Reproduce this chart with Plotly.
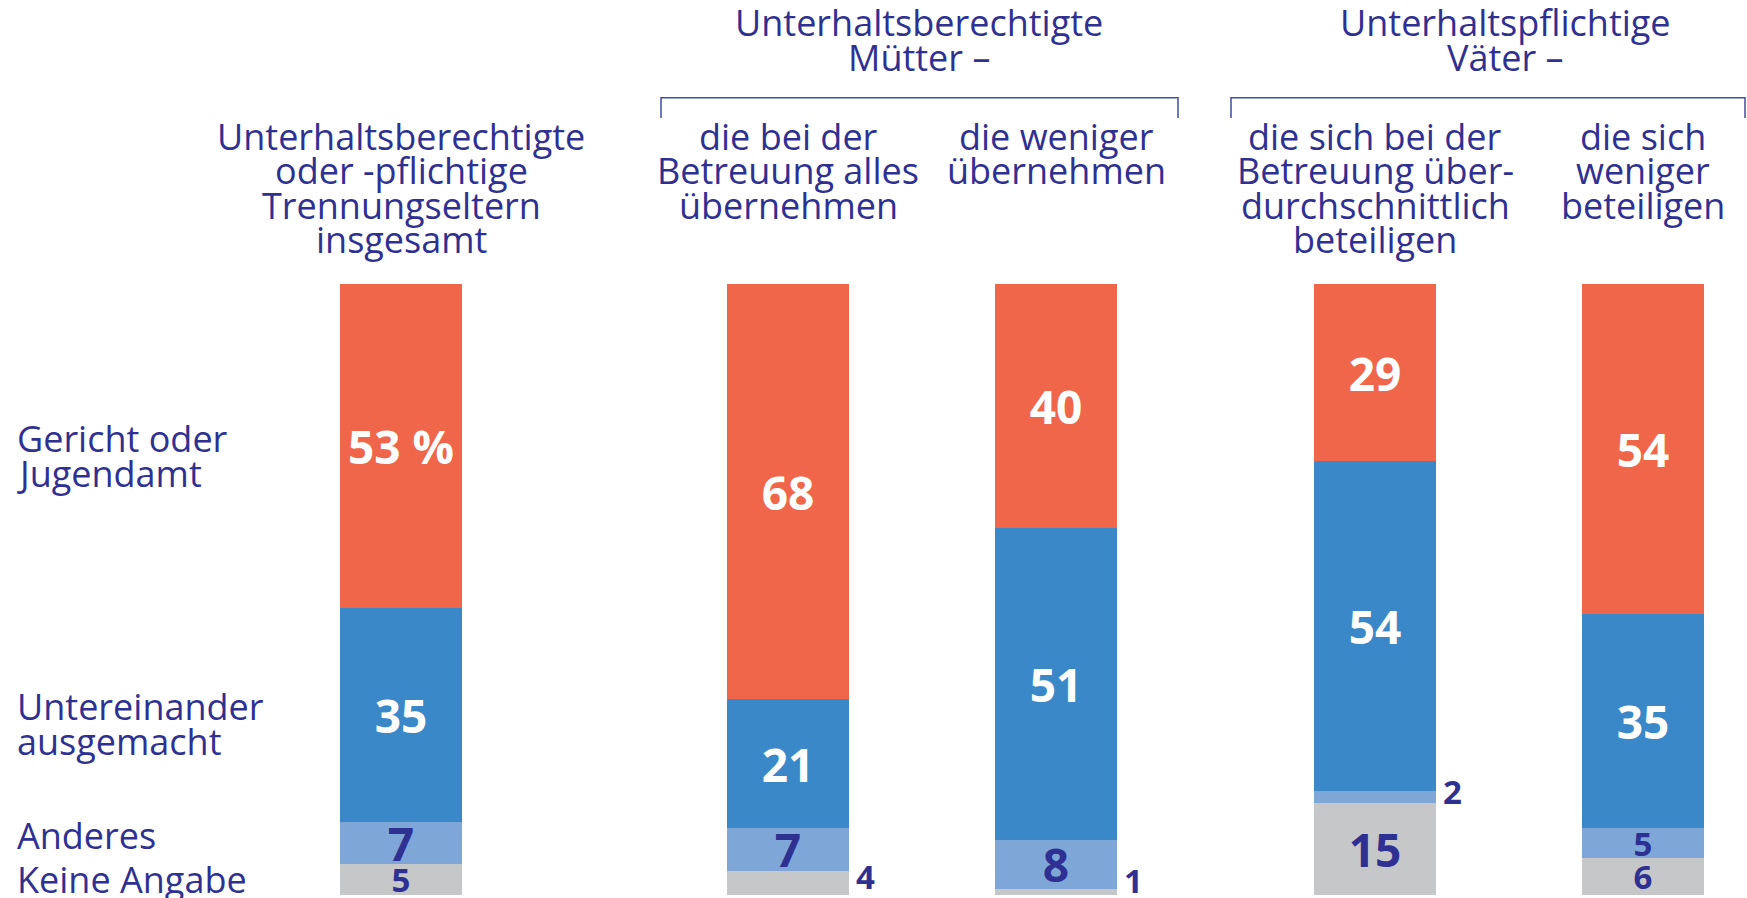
import plotly.graph_objects as go

# ---------------- data ----------------
groups = ["Trennungseltern insgesamt", "Mütter: alles", "Mütter: weniger",
          "Väter: überdurchschnittlich", "Väter: weniger"]
categories = ["Keine Angabe", "Anderes", "Untereinander ausgemacht", "Gericht oder Jugendamt"]
keine_angabe = [5, 4, 1, 15, 6]
anderes = [7, 7, 8, 2, 5]
untereinander = [35, 21, 51, 54, 35]
gericht = [53, 68, 40, 29, 54]

bar_headers = [
    ["Unterhaltsberechtigte", "oder -pflichtige", "Trennungseltern", "insgesamt"],
    ["die bei der", "Betreuung alles", "übernehmen"],
    ["die weniger", "übernehmen"],
    ["die sich bei der", "Betreuung über-", "durchschnittlich", "beteiligen"],
    ["die sich", "weniger", "beteiligen"],
]
group_headers = [["Unterhaltsberechtigte", "Mütter –"], ["Unterhaltspflichtige", "Väter –"]]
category_label_lines = [["Gericht oder", "Jugendamt"], ["Untereinander", "ausgemacht"],
                        ["Anderes"], ["Keine Angabe"]]

# ---------------- layout constants ----------------
W, H = 1747, 898
BAR_X = [401, 788, 1056, 1375, 1643]
BAR_W = 122
Y_TOP_PX, Y_BOT_PX = 284, 895
u = 100.0 / (Y_BOT_PX - Y_TOP_PX)
Y_RANGE = [-(H - Y_BOT_PX) * u, 100 + Y_TOP_PX * u]

FONT = "Open Sans"
NAVY = "#2E3192"
LINE = "#3F4F9F"
COLORS = ["#C6C7C9", "#7EA7D8", "#3B88C8", "#F0664A"]
TXT_FS = 36
BIG_FS, SMALL_FS = 46, 33

HEADER_BASE = [150, 184.5, 219, 253.5]
GROUP_BASE = [36, 71]
GROUP_X = [919, 1505]
CAT_BASE = [[452, 487], [720, 755], [849], [893]]
CAT_X = 15
BRACKETS = [(661, 1178), (1231, 1745)]
BRACKET_Y, BRACKET_TICK = 97.7, 118


def py(baseline, fs):
    return 1 - (baseline - 0.388 * fs) / H


series = [keine_angabe, anderes, untereinander, gericht]
fig = go.Figure()
annotations = []

for si, vals in enumerate(series):
    light = si < 2
    texts, sizes = [], []
    for bi, v in enumerate(vals):
        if v < 5:
            texts.append("")
            below = sum(s[bi] for s in series[:si])
            annotations.append(dict(
                xref="x", yref="y", x=BAR_X[bi] + BAR_W / 2 + 5, y=max(below + v / 2 + 1, 2.4),
                text=str(v), showarrow=False, xanchor="left", yanchor="middle",
                font=dict(family=FONT, size=SMALL_FS, color=NAVY, weight="bold")))
        else:
            texts.append(f"{v} %" if (bi == 0 and si == 3) else str(v))
        sizes.append(BIG_FS if v >= 7 else SMALL_FS)
    fig.add_trace(go.Bar(
        x=BAR_X, y=vals, width=BAR_W, name=categories[si],
        marker=dict(color=COLORS[si], line=dict(width=0)),
        text=texts, textposition="inside", insidetextanchor="middle",
        textangle=0, constraintext="none", cliponaxis=False,
        textfont=dict(family=FONT, size=sizes, color=NAVY if light else "white", weight="bold"),
        hoverinfo="skip", showlegend=False))

# bar headers
for bi, lines in enumerate(bar_headers):
    for li, t in enumerate(lines):
        annotations.append(dict(xref="paper", yref="paper", x=BAR_X[bi] / W, y=py(HEADER_BASE[li], TXT_FS),
                                text=t, showarrow=False, xanchor="center", yanchor="middle",
                                font=dict(family=FONT, size=TXT_FS, color=NAVY)))
# group headers
for gi, lines in enumerate(group_headers):
    for li, t in enumerate(lines):
        annotations.append(dict(xref="paper", yref="paper", x=GROUP_X[gi] / W, y=py(GROUP_BASE[li], TXT_FS),
                                text=t, showarrow=False, xanchor="center", yanchor="middle",
                                font=dict(family=FONT, size=TXT_FS, color=NAVY)))
# category labels
for ci, lines in enumerate(category_label_lines):
    for li, t in enumerate(lines):
        annotations.append(dict(xref="paper", yref="paper", x=CAT_X / W, y=py(CAT_BASE[ci][li], TXT_FS),
                                text=t, showarrow=False, xanchor="left", yanchor="middle",
                                font=dict(family=FONT, size=TXT_FS, color=NAVY)))

shapes = []
for x0, x1 in BRACKETS:
    shapes.append(dict(type="path", xref="paper", yref="paper",
                       path=f"M {x0 / W},{1 - BRACKET_TICK / H} L {x0 / W},{1 - BRACKET_Y / H} "
                            f"L {x1 / W},{1 - BRACKET_Y / H} L {x1 / W},{1 - BRACKET_TICK / H}",
                       line=dict(color=LINE, width=1.5)))

fig.update_layout(
    width=W, height=H, barmode="stack",
    margin=dict(l=0, r=0, t=0, b=0),
    paper_bgcolor="white", plot_bgcolor="white",
    xaxis=dict(range=[0, W], visible=False, fixedrange=True),
    yaxis=dict(range=Y_RANGE, visible=False, fixedrange=True),
    annotations=annotations, shapes=shapes,
    hovermode=False, showlegend=False,
    font=dict(family=FONT, color=NAVY),
)

fig.write_html("out.html", config={"displayModeBar": False},
               post_script="document.body.style.margin='0';document.body.style.overflow='hidden';")
